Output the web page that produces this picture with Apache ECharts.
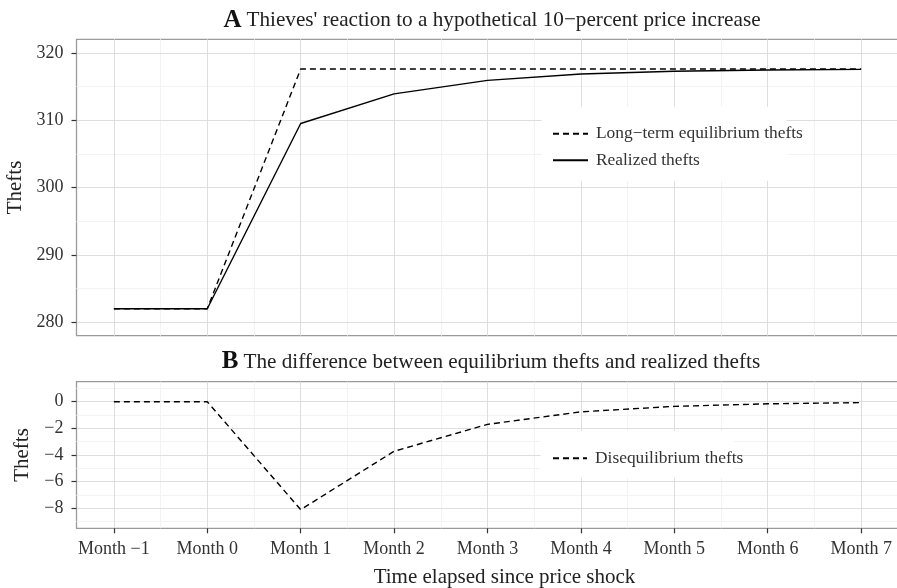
<!DOCTYPE html>
<html><head><meta charset="utf-8">
<script src="https://cdn.jsdelivr.net/npm/echarts@6/dist/echarts.min.js"></script>
<style>html,body{margin:0;padding:0;background:#fff}#c{width:897px;height:588px}</style>
</head><body><div id="c"></div>
<script>
var months = [-1, 0, 1, 2, 3, 4, 5, 6, 7];
var monthLabels = ['Month \u22121','Month 0','Month 1','Month 2','Month 3','Month 4','Month 5','Month 6','Month 7'];
var equilibrium = [282, 282, 317.6, 317.6, 317.6, 317.6, 317.6, 317.6, 317.6];
var realized = [282, 282, 309.5, 313.9, 315.9, 316.84, 317.25, 317.44, 317.53];
var disequilibrium = [0, 0, -8.1, -3.72, -1.7, -0.76, -0.35, -0.16, -0.07];
var topTicks = [280, 290, 300, 310, 320];
var topMinor = [285, 295, 305, 315];
var botTicks = [0, -2, -4, -6, -8];
var botMinor = [1, -1, -3, -5, -7, -9];
var xMinor = [-0.5, 0.5, 1.5, 2.5, 3.5, 4.5, 5.5, 6.5];
var nameEq = 'Long\u2212term equilibrium thefts';
var nameReal = 'Realized thefts';
var nameDis = 'Disequilibrium thefts';

function pairs(ys){ return months.map(function(m,i){ return [m, ys[i]]; }); }
function fmtY(v){ return v < 0 ? '\u2212' + Math.abs(v) : String(v); }

var FONT = '"Liberation Serif", "DejaVu Serif", serif';
var TXT = '#333333';
var MAJ = '#dedede', MIN = '#f3f3f3';

function majorX(gi, showLabels){
  return {
    type:'value', gridIndex:gi, min:-1.4, max:7.4, position:'bottom',
    axisLine:{show:false, onZero:false},
    axisTick:{show:showLabels, customValues:months, length:5, lineStyle:{color:'#333',width:1.2}},
    axisLabel:{show:showLabels, customValues:months, margin:12, fontFamily:FONT, fontSize:18, color:TXT,
      formatter:function(v){ return monthLabels[months.indexOf(Math.round(v))]; }},
    splitLine:{show:true, lineStyle:{color:MAJ, width:1}},
    name: showLabels ? 'Time elapsed since price shock' : '',
    nameLocation:'middle', nameGap:38.5,
    nameTextStyle:{fontFamily:FONT, fontSize:21, color:'#222', padding:[0,0,0,34]},
    z:1
  };
}
function minorX(gi){
  return {
    type:'value', gridIndex:gi, min:-1.4, max:7.4, position:'top',
    axisLine:{show:false, onZero:false}, axisTick:{show:false, customValues:xMinor},
    axisLabel:{show:false, customValues:xMinor},
    splitLine:{show:true, lineStyle:{color:MIN, width:1}}, z:0
  };
}
function majorY(gi, mn, mx, ticks, gap){
  return {
    type:'value', gridIndex:gi, min:mn, max:mx, position:'left',
    axisLine:{show:false, onZero:false},
    axisTick:{show:true, customValues:ticks, length:5, lineStyle:{color:'#333',width:1.2}},
    axisLabel:{customValues:ticks, margin:13, fontFamily:FONT, fontSize:18, color:TXT, formatter:fmtY},
    splitLine:{show:true, lineStyle:{color:MAJ, width:1}},
    name:'Thefts', nameLocation:'middle', nameGap:gap,
    nameTextStyle:{fontFamily:FONT, fontSize:21, color:'#222'},
    z:1
  };
}
function minorY(gi, mn, mx, ticks){
  return {
    type:'value', gridIndex:gi, min:mn, max:mx, position:'right',
    axisLine:{show:false, onZero:false}, axisTick:{show:false, customValues:ticks},
    axisLabel:{show:false, customValues:ticks},
    splitLine:{show:true, lineStyle:{color:MIN, width:1}}, z:0
  };
}
function titleText(letter, body){ return '{a|' + letter + '} {b|' + body + '}'; }
var titleRich = {a:{fontFamily:FONT,fontSize:25,fontWeight:'bold',color:'#111'},
                 b:{fontFamily:FONT,fontSize:21.2,fontWeight:'normal',color:'#222'}};

var chart = echarts.init(document.getElementById('c'), null, {renderer:'canvas'});
chart.setOption({
  animation:false,
  backgroundColor:'#fff',
  title:[
    {text:titleText('A', 'Thieves\' reaction to a hypothetical 10\u2212percent price increase'),
     left:487, top:3, textAlign:'center', textStyle:{rich:titleRich}},
    {text:titleText('B', 'The difference between equilibrium thefts and realized thefts'),
     left:486, top:344.5, textAlign:'center', textStyle:{rich:titleRich}}
  ],
  grid:[
    {left:76.5, top:39.3, width:822, height:296.4, show:true, outerBoundsMode:'none', containLabel:false,
     borderColor:'#9a9a9a', borderWidth:1.3, backgroundColor:'transparent'},
    {left:76.5, top:381.7, width:822, height:146.6, show:true, outerBoundsMode:'none', containLabel:false,
     borderColor:'#9a9a9a', borderWidth:1.3, backgroundColor:'transparent'}
  ],
  xAxis:[majorX(0,false), majorX(1,true), minorX(0), minorX(1)],
  yAxis:[majorY(0,278,322,topTicks,48), majorY(1,-9.5,1.5,botTicks,41.5),
         minorY(0,278,322,topMinor), minorY(1,-9.5,1.5,botMinor)],
  graphic:[
    {type:'rect', z:5, shape:{x:541.7,y:106.7,width:245,height:74.3}, style:{fill:'#fff'}},
    {type:'rect', z:5, shape:{x:540.6,y:431,width:193.4,height:46.7}, style:{fill:'#fff'}}
  ],
  legend:[
    {data:[nameEq, nameReal], orient:'vertical', left:552, top:124.7, padding:0,
     itemWidth:35, itemHeight:18, itemGap:8.6, z:6, itemStyle:{opacity:0},
     textStyle:{fontFamily:FONT, fontSize:17.4, lineHeight:18, color:TXT, padding:[0,0,0,3]}},
    {data:[nameDis], orient:'vertical', left:552, top:449.3, padding:0,
     itemWidth:34, itemHeight:18, z:6, itemStyle:{opacity:0},
     textStyle:{fontFamily:FONT, fontSize:17.4, lineHeight:18, color:TXT, padding:[0,0,0,3]}}
  ],
  series:[
    {name:nameEq, type:'line', xAxisIndex:0, yAxisIndex:0, data:pairs(equilibrium),
     symbol:'none', z:3, lineStyle:{color:'#000', width:1.4, type:[6,4]}, itemStyle:{color:'#000'}},
    {name:nameReal, type:'line', xAxisIndex:0, yAxisIndex:0, data:pairs(realized),
     symbol:'none', z:3, lineStyle:{color:'#000', width:1.4, type:'solid'}, itemStyle:{color:'#000'}},
    {name:nameDis, type:'line', xAxisIndex:1, yAxisIndex:1, data:pairs(disequilibrium),
     symbol:'none', z:3, lineStyle:{color:'#000', width:1.4, type:[6,4]}, itemStyle:{color:'#000'}}
  ]
});
</script>
</body></html>
